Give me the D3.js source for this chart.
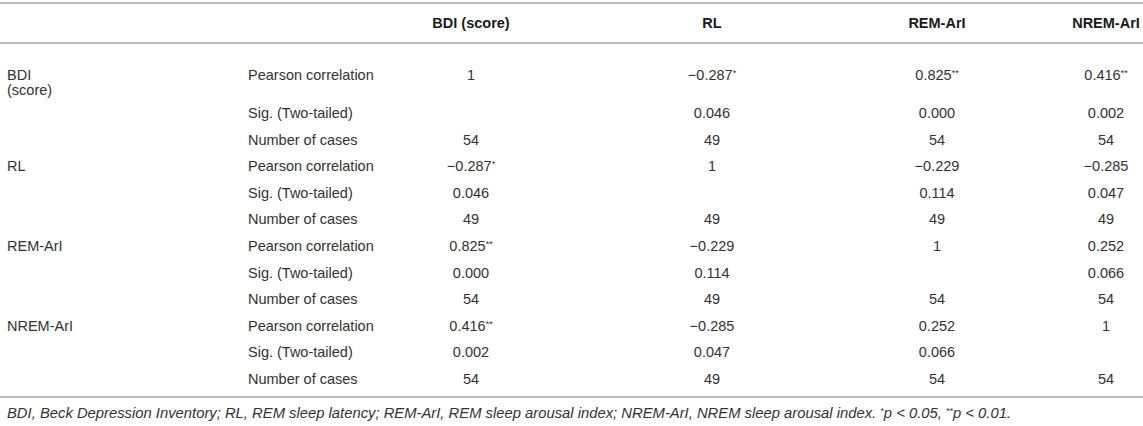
<!DOCTYPE html>
<html>
<head>
<meta charset="utf-8">
<script src="https://cdn.jsdelivr.net/npm/d3@7"></script>
<style>
  html, body { margin: 0; padding: 0; background: #fff; }
  svg { display: block; }
  text { font-family: "Liberation Sans", Arial, Helvetica, sans-serif; fill: #333; }
</style>
</head>
<body>
<svg id="chart" width="1143" height="426"></svg>
<script>
// ---- data ----
const variables = ["BDI (score)", "RL", "REM-ArI", "NREM-ArI"];
const rowLabels = [["BDI", "(score)"], ["RL"], ["REM-ArI"], ["NREM-ArI"]];
const statLabels = ["Pearson correlation", "Sig. (Two-tailed)", "Number of cases"];
const pearsonR = [
  [1, -0.287, 0.825, 0.416],
  [-0.287, 1, -0.229, -0.285],
  [0.825, -0.229, 1, 0.252],
  [0.416, -0.285, 0.252, 1]
];
const pearsonStars = [
  ["", "*", "**", "**"],
  ["*", "", "", ""],
  ["**", "", "", ""],
  ["**", "", "", ""]
];
const sigValues = [
  [null, 0.046, 0.000, 0.002],
  [0.046, null, 0.114, 0.047],
  [0.000, 0.114, null, 0.066],
  [0.002, 0.047, 0.066, null]
];
const nCases = [
  [54, 49, 54, 54],
  [49, 49, 49, 49],
  [54, 49, 54, 54],
  [54, 49, 54, 54]
];
const footnote = "BDI, Beck Depression Inventory; RL, REM sleep latency; REM-ArI, REM sleep arousal index; NREM-ArI, NREM sleep arousal index. ";
const footnoteP = [["*", "p < 0.05, "], ["**", "p < 0.01."]];

// ---- layout ----
const W = 1143;
const svg = d3.select("#chart");
const fs = 14.5;
const lineColor = "#a8a8a8";

const x = d3.scaleOrdinal().domain(variables).range([471, 712, 937, 1106]);
const xLabel = 7, xStat = 248;
const firstRowY = 75;
const y = d3.scaleLinear().domain([1, 11]).range([113, 379]);
const rowY = i => i === 0 ? firstRowY : y(i);

const fmt3 = d3.format(".3f");
const fmtR = v => v === 1 ? "1" : (v < 0 ? "\u2212" + fmt3(-v) : fmt3(v));

// rules
const hLines = [3, 43, 397];
svg.selectAll("line.rule").data(hLines).join("line")
  .attr("class", "rule")
  .attr("x1", 0).attr("x2", W)
  .attr("y1", d => d).attr("y2", d => d)
  .attr("stroke", lineColor).attr("stroke-width", 1.3);

// header
svg.selectAll("text.head").data(variables).join("text")
  .attr("class", "head")
  .attr("x", d => x(d)).attr("y", 23).attr("dy", "0.35em")
  .attr("text-anchor", "middle")
  .attr("font-size", fs).attr("font-weight", "bold")
  .style("fill", "#1a1a1a")
  .text(d => d);

// body rows
const rows = [];
variables.forEach((v, vi) => {
  statLabels.forEach((s, si) => rows.push({ vi, si, idx: vi * 3 + si }));
});

// row labels
variables.forEach((v, vi) => {
  const t = svg.append("text")
    .attr("x", xLabel).attr("y", rowY(vi * 3))
    .attr("font-size", fs);
  rowLabels[vi].forEach((line, li) => {
    t.append("tspan").attr("x", xLabel)
      .attr("dy", li === 0 ? 5 : 15)
      .text(line);
  });
});

// stat labels
svg.selectAll("text.stat").data(rows).join("text")
  .attr("class", "stat")
  .attr("x", xStat).attr("y", d => rowY(d.idx)).attr("dy", "0.35em")
  .attr("font-size", fs)
  .text(d => statLabels[d.si]);

// cells
rows.forEach(r => {
  variables.forEach((col, ci) => {
    let txt = null, stars = "";
    if (r.si === 0) { txt = fmtR(pearsonR[r.vi][ci]); stars = pearsonStars[r.vi][ci]; }
    else if (r.si === 1) { const s = sigValues[r.vi][ci]; txt = s === null ? null : fmt3(s); }
    else { txt = String(nCases[r.vi][ci]); }
    if (txt === null) return;
    const t = svg.append("text")
      .attr("x", x(col)).attr("y", rowY(r.idx) + 5)
      .attr("text-anchor", "middle").attr("font-size", fs);
    t.append("tspan").text(txt);
    if (stars) {
      t.append("tspan").attr("font-size", 9).attr("dy", -4).text(stars);
    }
  });
});

// footnote
const fn = svg.append("text")
  .attr("x", xLabel).attr("y", 418)
  .attr("font-size", 14.8).attr("font-style", "italic");
fn.append("tspan").text(footnote);
footnoteP.forEach(([st, rest]) => {
  fn.append("tspan").attr("font-size", 9).attr("dy", -4).text(st);
  fn.append("tspan").attr("dy", 4).text(rest);
});
</script>
</body>
</html>
